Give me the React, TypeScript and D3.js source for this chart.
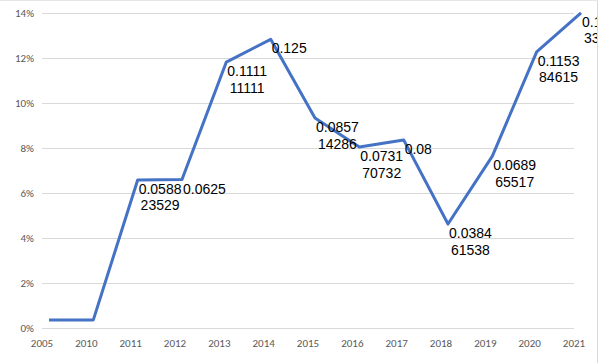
import * as d3 from 'd3';
import React, {useEffect, useRef} from "react";

// categories and series
const years = ['2005', '2010', '2011', '2012', '2013', '2014', '2015', '2016', '2017', '2018', '2019', '2020', '2021'];
const rates = [0.0036, 0.0036, 0.0658, 0.066, 0.1182, 0.1283, 0.0933, 0.0804, 0.0836, 0.0462, 0.0764, 0.1227, 0.1401];
const pointLabels = [null, null, '0.058823529', '0.0625', '0.111111111', '0.125', '0.085714286',
  '0.073170732', '0.08', '0.038461538', '0.068965517', '0.115384615', '0.133333333'];
const yTicks = [0, 0.02, 0.04, 0.06, 0.08, 0.1, 0.12, 0.14];

function LineChart() {
  const ref = useRef<SVGSVGElement>(null);

  useEffect(() => {
    const width = 600;
    const height = 363;
    const svg = d3.select(ref.current);
    svg.selectAll("*").remove();

    const x = d3.scalePoint<string>().domain(years).range([42, 574]);
    // the line sits a few pixels right of the category ticks in the original
    const xLine = d3.scalePoint<string>().domain(years).range([49, 581]);
    const y = d3.scaleLinear().domain([0, 0.14]).range([328, 13]);

    svg.append("defs").append("clipPath").attr("id", "area")
        .append("rect").attr("x", 0).attr("y", 0).attr("width", 597).attr("height", height);

    svg.append("rect").attr("width", width).attr("height", height).attr("fill", "#fff");

    // gridlines
    svg.append("g")
        .selectAll("line")
        .data(yTicks)
        .join("line")
        .attr("x1", 42).attr("x2", 574)
        .attr("y1", d => Math.round(y(d)) + 0.5)
        .attr("y2", d => Math.round(y(d)) + 0.5)
        .attr("stroke", "#d9d9d9");

    // chart border
    svg.append("line").attr("x1", 597.5).attr("x2", 597.5).attr("y1", 0).attr("y2", height)
        .attr("stroke", "#d9d9d9");
    svg.append("line").attr("x1", 0).attr("x2", 598).attr("y1", 0.5).attr("y2", 0.5)
        .attr("stroke", "#e6e6e6");

    const tickFont = g => g
        .attr("font-family", "Calibri, Carlito, 'Liberation Sans', Arial, sans-serif")
        .attr("font-size", 11)
        .attr("fill", "#595959");

    svg.append("g").call(tickFont)
        .selectAll("text")
        .data(yTicks)
        .join("text")
        .attr("x", 34)
        .attr("y", d => y(d))
        .attr("dy", "0.35em")
        .attr("text-anchor", "end")
        .text(d => d3.format(".0%")(d));

    svg.append("g").call(tickFont)
        .selectAll("text")
        .data(years)
        .join("text")
        .attr("x", d => x(d))
        .attr("y", 347)
        .attr("text-anchor", "middle")
        .text(d => d);

    const line = d3.line<number>()
        .x((d, i) => xLine(years[i]))
        .y(d => y(d));

    const plot = svg.append("g").attr("clip-path", "url(#area)");

    plot.append("path")
        .datum(rates)
        .attr("fill", "none")
        .attr("stroke", "#4472c4")
        .attr("stroke-width", 3)
        .attr("stroke-linejoin", "round")
        .attr("d", line);

    // data labels, wrapped after six characters like the original
    years.forEach((yr, i) => {
      const label = pointLabels[i];
      if (!label) return;
      const px = xLine(yr) + 1;
      const py = y(rates[i]);
      const parts = [label.slice(0, 6), label.slice(6)].filter(s => s.length);
      const g = plot.append("g")
          .attr("font-family", "'Liberation Sans', Arial, sans-serif")
          .attr("font-size", 14)
          .attr("fill", "#000");
      const first = g.append("text")
          .attr("x", px)
          .attr("y", py + 14)
          .text(parts[0]);
      if (parts[1]) {
        const w = (first.node() as SVGTextElement).getComputedTextLength();
        g.append("text")
            .attr("x", px + w / 2)
            .attr("y", py + 30.5)
            .attr("text-anchor", "middle")
            .text(parts[1]);
      }
    });
  }, []);

  return <svg ref={ref} width={600} height={363} style={{display: "block"}}/>;
}

export default function App() {
  return (
      <>
        <style>{`body{margin:0}`}</style>
        <LineChart/>
      </>
  );
}
